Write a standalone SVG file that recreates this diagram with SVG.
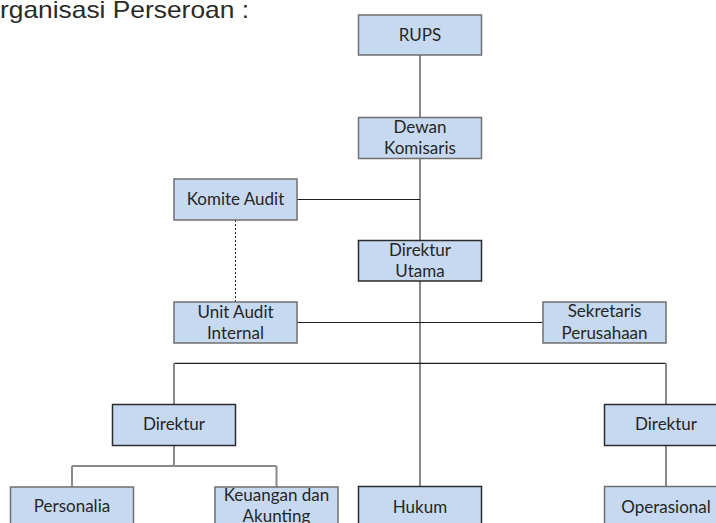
<svg xmlns="http://www.w3.org/2000/svg" width="716" height="523" viewBox="0 0 716 523">
<style>
.box{fill:#c6d9f1;stroke:#6f6f6f;stroke-width:1.5}
.dark{stroke:#2b2b2b}
.lbl{font-family:Lato,"Liberation Sans",sans-serif;font-size:17px;fill:#262626;text-anchor:middle}
.title{font-family:"Liberation Sans",Arial,sans-serif;font-size:24px;fill:#2a2a2a}
.g{stroke:#8a8a8a;stroke-width:2;fill:none}
.k{stroke:#1e1e1e;stroke-width:1.2;fill:none}
.d{stroke:#1e1e1e;stroke-width:1;stroke-dasharray:2,2;fill:none}
</style>
<rect width="716" height="523" fill="#ffffff"/>
<text class="title" x="0" y="18" textLength="249" lengthAdjust="spacingAndGlyphs">rganisasi Perseroan :</text>
<g id="connectors">
<line class="g" x1="420" y1="55" x2="420" y2="486"/>
<line class="k" x1="297" y1="199.5" x2="420" y2="199.5"/>
<line class="d" x1="235.5" y1="220" x2="235.5" y2="302"/>
<line class="k" x1="297" y1="322.5" x2="543" y2="322.5"/>
<line class="k" x1="174" y1="363.3" x2="666" y2="363.3"/>
<line class="g" x1="174" y1="363" x2="174" y2="404"/>
<line class="g" x1="666" y1="363" x2="666" y2="404"/>
<line class="g" x1="174" y1="445" x2="174" y2="466"/>
<line class="g" x1="71.8" y1="466" x2="276.5" y2="466"/>
<line class="g" x1="72" y1="466" x2="72" y2="487"/>
<line class="g" x1="276.5" y1="466" x2="276.5" y2="487"/>
<line class="g" x1="666" y1="445" x2="666" y2="486"/>
</g>
<g id="rups"><rect class="box" x="358.5" y="15" width="123" height="40"/><text class="lbl" x="420" y="41">RUPS</text></g>
<g id="dewan"><rect class="box" x="358.5" y="117.5" width="123" height="41"/><text class="lbl" x="420" y="133">Dewan</text><text class="lbl" x="420" y="153.5">Komisaris</text></g>
<g id="komite"><rect class="box" x="174" y="179" width="123" height="41"/><text class="lbl" x="235.5" y="205">Komite Audit</text></g>
<g id="dirut"><rect class="box dark" x="358.5" y="240.5" width="123" height="40.5"/><text class="lbl" x="420" y="256">Direktur</text><text class="lbl" x="420" y="276.5">Utama</text></g>
<g id="unit"><rect class="box" x="174" y="302" width="123" height="41"/><text class="lbl" x="235.5" y="318">Unit Audit</text><text class="lbl" x="235.5" y="339">Internal</text></g>
<g id="sekretaris"><rect class="box" x="543" y="302" width="123" height="41"/><text class="lbl" x="604.5" y="317">Sekretaris</text><text class="lbl" x="604.5" y="338.5">Perusahaan</text></g>
<g id="direktur-kiri"><rect class="box dark" x="112.5" y="404.5" width="123" height="41"/><text class="lbl" x="174" y="430">Direktur</text></g>
<g id="direktur-kanan"><rect class="box dark" x="604.5" y="404.5" width="123" height="41"/><text class="lbl" x="666" y="430">Direktur</text></g>
<g id="personalia"><rect class="box" x="10.5" y="487" width="123" height="41"/><text class="lbl" x="72" y="512">Personalia</text></g>
<g id="keuangan"><rect class="box" x="215" y="487" width="123" height="41"/><text class="lbl" x="276.5" y="501">Keuangan dan</text><text class="lbl" x="276.5" y="522">Akunting</text></g>
<g id="hukum"><rect class="box dark" x="358.5" y="486.5" width="123" height="41"/><text class="lbl" x="420" y="512.5">Hukum</text></g>
<g id="operasional"><rect class="box" x="604.5" y="486.5" width="123" height="41"/><text class="lbl" x="666" y="512.5">Operasional</text></g>
</svg>
